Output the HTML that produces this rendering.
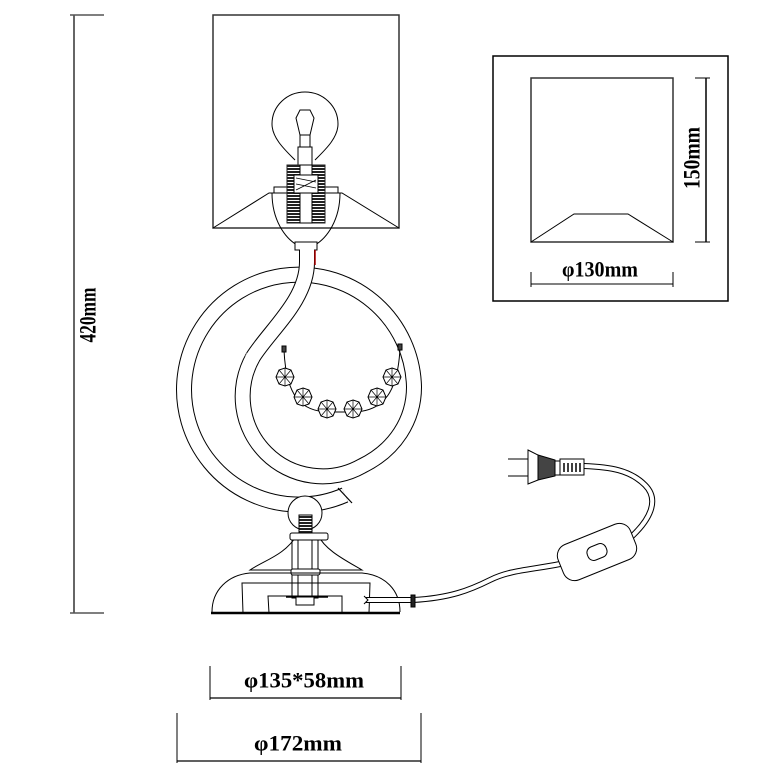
<!DOCTYPE html>
<html><head><meta charset="utf-8"><style>
html,body{margin:0;padding:0;background:#fff}
svg{display:block}
text{font-family:"Liberation Serif",serif;font-weight:bold;fill:#000}
</style></head><body>
<svg width="780" height="780" viewBox="0 0 780 780" xmlns="http://www.w3.org/2000/svg">
<defs>
<pattern id="h" width="4" height="3" patternUnits="userSpaceOnUse"><rect width="4" height="3" fill="#fff"/><rect width="4" height="2" fill="#222"/></pattern>
</defs>
<g fill="none" stroke="#000" stroke-width="1">
<line x1="74" y1="15" x2="74" y2="613" stroke-width="1.2"/>
<line x1="70" y1="15" x2="104" y2="15" stroke="#555" stroke-width="1.5"/>
<line x1="70" y1="613" x2="104" y2="613" stroke="#555" stroke-width="1.5"/>

<rect x="213" y="15" width="186" height="213" stroke="#333" stroke-width="1.5"/>
<polyline points="213,228 269,193 342,193 399,228"/>
<path d="M295,160 C285,150 272,138 272,124 C272,106 287,92 305,92 C323,92 338,106 338,124 C338,138 325,150 315,160"/>
<path d="M296,118 L300,110 L310,110 L314,118 L310,135 L300,135 Z"/>
<rect x="300" y="135" width="10" height="12"/>
<rect x="298" y="147" width="14" height="18"/>
<rect x="274" y="187" width="64" height="6"/>
<path d="M272,193 C272,220 285,238 297,245 L315,245 C327,238 340,220 340,193"/>
<rect x="287" y="165" width="38" height="58" fill="url(#h)" stroke="#222"/>
<rect x="300" y="165" width="12" height="58" fill="#fff"/>
<rect x="294" y="175" width="24" height="18" fill="#fff"/>
<path d="M296,178 L316,182 M296,184 L316,188 M296,190 L316,180" stroke-width="0.8"/>
<rect x="295" y="242" width="22" height="8" fill="#fff"/>

<!-- ring + inner loop (single path) -->
<path d="M345,495 A115,115 0 1 1 414,387 C414,420 395,450 362,466 A80,80 0 0 1 253,357" stroke="#000" stroke-width="16"/>
<path d="M345,495 A115,115 0 1 1 414,387 C414,420 395,450 362,466 A80,80 0 0 1 253,357" stroke="#fff" stroke-width="14"/>
<!-- S-tube -->
<path d="M253,357 C270,330 307,300 307,262 L307,250" stroke="#000" stroke-width="16"/>
<path d="M251,360 L253,357 C270,330 307,300 307,262 L307,249" stroke="#fff" stroke-width="14"/>
<line x1="315" y1="250" x2="315" y2="265" stroke="#a00" stroke-width="1.5"/>
<line x1="338" y1="488" x2="352" y2="503" stroke-width="1.2"/>

<path d="M284,350 C286,395 300,412 330,412 L352,412 C385,412 398,390 400,348"/>
<g id="c">
<polygon points="285,368 291,370 294,377 291,384 285,386 279,384 276,377 279,370" fill="#fff"/>
<path d="M276,377 H294 M285,368 V386 M279,370 L291,384 M291,370 L279,384" stroke-width="0.7"/>
</g>
<use href="#c" transform="translate(18,20)"/>
<use href="#c" transform="translate(42,32)"/>
<use href="#c" transform="translate(68,32)"/>
<use href="#c" transform="translate(92,20)"/>
<use href="#c" transform="translate(107,0)"/>
<rect x="282" y="346" width="4" height="6" fill="#444"/>
<rect x="398" y="344" width="4" height="6" fill="#444"/>

<circle cx="305" cy="513" r="17" fill="#fff"/>
<rect x="299" y="515" width="13" height="18" fill="url(#h)" stroke="#000"/>
<path d="M297,535 C285,555 265,560 250,570 L362,570 C345,560 325,550 318,535"/>
<rect x="290" y="533" width="38" height="7" rx="2" fill="#fff"/>
<rect x="292" y="540" width="26" height="58"/>
<line x1="298" y1="540" x2="298" y2="598"/>
<line x1="312" y1="540" x2="312" y2="598"/>
<rect x="291" y="569" width="29" height="6" rx="2" fill="#fff"/>
<path d="M212,612 C212,590 228,575 250,573 L362,573 C385,575 400,590 400,612"/>
<line x1="211" y1="613" x2="400" y2="613" stroke-width="2.5"/>
<polyline points="243,613 242,583 370,583 369,613"/>
<polyline points="269,613 268,596 342,596 342,613"/>
<line x1="286" y1="597" x2="328" y2="597" stroke-width="1.5"/>
<rect x="296" y="597" width="18" height="8" fill="#fff"/>
<path d="M366,600 L413,600 C450,598 470,590 490,580 C510,570 530,570 560,564" stroke-width="6"/>
<path d="M366,600 L413,600 C450,598 470,590 490,580 C510,570 530,570 560,564" stroke="#fff" stroke-width="4"/>
<path d="M364,596 L368,600 L364,604" stroke-width="1"/>
<rect x="411" y="595" width="4" height="12" fill="#222"/>
<path d="M630,538 C650,520 660,500 645,485 C630,470 610,467 584,466" stroke-width="6"/>
<path d="M630,538 C650,520 660,500 645,485 C630,470 610,467 584,466" stroke="#fff" stroke-width="4"/>
<g transform="translate(597,552) rotate(-22)">
<rect x="-39" y="-19" width="78" height="38" rx="12" fill="#fff"/>
<rect x="-10" y="-7" width="20" height="14" rx="6" fill="#fff"/>
</g>
<line x1="508" y1="459" x2="528" y2="459"/><line x1="508" y1="476" x2="528" y2="476"/>
<polygon points="528,450 538,455 538,480 528,484" fill="#fff"/>
<polygon points="538,455 555,460 555,476 538,480" fill="#444"/>
<rect x="555" y="461" width="5" height="14" fill="#fff"/>
<rect x="560" y="459" width="24" height="16" fill="#fff"/>
<path d="M564,463 V472 M568,463 V472 M572,463 V472 M576,463 V472 M580,463 V472" stroke-width="1.5"/>

<rect x="493" y="56" width="235" height="245" stroke-width="1.5"/>
<rect x="531" y="78" width="142" height="164" stroke="#333" stroke-width="1.5"/>
<polyline points="531,242 574,214 628,214 673,242"/>
<line x1="706" y1="78" x2="706" y2="242" stroke-width="1.5"/>
<line x1="695" y1="78" x2="710" y2="78"/><line x1="695" y1="242" x2="710" y2="242"/>
<line x1="531" y1="284" x2="673" y2="284"/>
<line x1="531" y1="272" x2="531" y2="287"/><line x1="673" y1="272" x2="673" y2="287"/>

<line x1="210" y1="698" x2="401" y2="698" stroke-width="1.2"/>
<line x1="210" y1="666" x2="210" y2="700"/><line x1="401" y1="666" x2="401" y2="700"/>
<line x1="177" y1="761" x2="421" y2="761" stroke-width="1.2"/>
<line x1="177" y1="713" x2="177" y2="763"/><line x1="421" y1="713" x2="421" y2="763"/>
</g>
<text x="88" y="315" font-size="23" text-anchor="middle" dominant-baseline="central" textLength="55" lengthAdjust="spacingAndGlyphs" transform="rotate(-90 88 315)">420mm</text>
<text x="692" y="158" font-size="23" text-anchor="middle" dominant-baseline="central" textLength="62" lengthAdjust="spacingAndGlyphs" transform="rotate(-90 692 158)">150mm</text>
<text x="600" y="269" font-size="22" text-anchor="middle" dominant-baseline="central" textLength="76" lengthAdjust="spacingAndGlyphs">φ130mm</text>
<text x="304" y="680" font-size="22" text-anchor="middle" dominant-baseline="central" textLength="120" lengthAdjust="spacingAndGlyphs">φ135*58mm</text>
<text x="298" y="743" font-size="22" text-anchor="middle" dominant-baseline="central" textLength="88" lengthAdjust="spacingAndGlyphs">φ172mm</text>
</svg>
</body></html>
